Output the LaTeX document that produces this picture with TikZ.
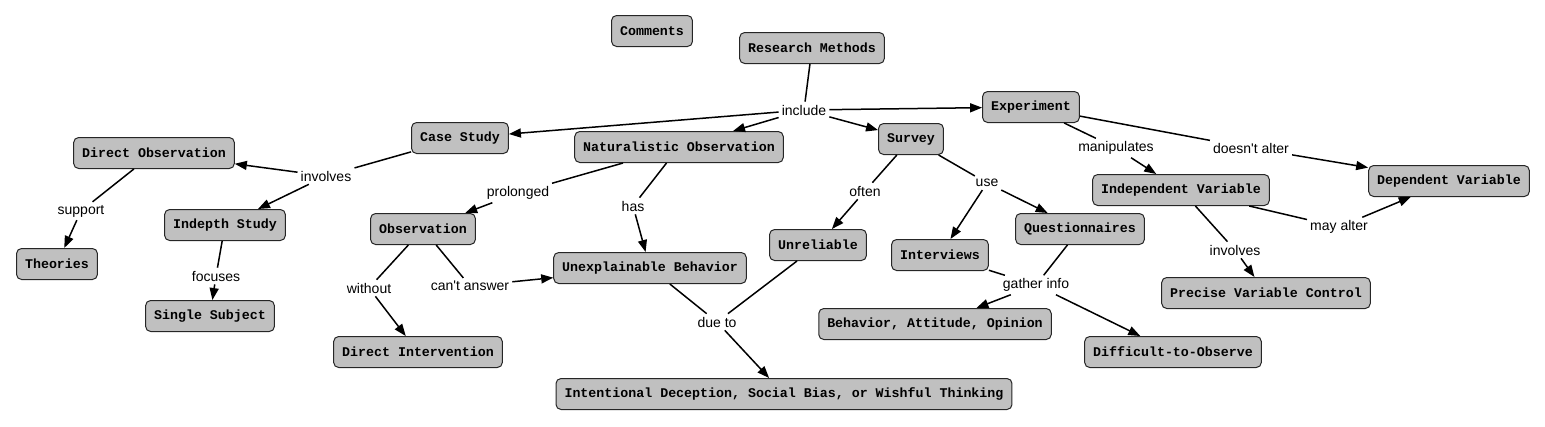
\documentclass[tikz,border=0pt]{standalone}
\usepackage{fontspec}
\setmainfont{Liberation Sans}
\newfontfamily\boxfont{Liberation Mono}
\usetikzlibrary{arrows.meta}
\definecolor{boxgray}{RGB}{192,192,192}
\tikzset{
  cbox/.style={draw=black!85, fill=boxgray, rounded corners=5pt, line width=1pt,
    minimum height=31pt, inner xsep=8.5pt, inner ysep=3pt,
    font=\boxfont\bfseries\fontsize{13.3}{15}\selectfont},
  lbl/.style={inner sep=3pt, font=\fontsize{14}{16}\selectfont},
  conn/.style={line width=1.5pt, draw=black},
  arr/.style={conn, -{Triangle[length=12pt,width=9pt]}}
}
\begin{document}
\begin{tikzpicture}[x=1pt,y=-1pt]
\useasboundingbox (0,0) rectangle (1545,426);
% boxes
\node[cbox] (comments) at (652,31) {Comments};
\node[cbox] (rm) at (812,48) {Research Methods};
\node[cbox] (exp) at (1031,107) {Experiment};
\node[cbox] (cs) at (460,138) {Case Study};
\node[cbox] (nat) at (679,147) {Naturalistic Observation};
\node[cbox] (sur) at (911,139) {Survey};
\node[cbox] (dobs) at (154,153) {Direct Observation};
\node[cbox] (ind) at (225,225) {Indepth Study};
\node[cbox] (theo) at (57,264) {Theories};
\node[cbox] (single) at (210,316) {Single Subject};
\node[cbox] (obs) at (423,229) {Observation};
\node[cbox] (unexp) at (650,268) {Unexplainable Behavior};
\node[cbox] (dint) at (418,352) {Direct Intervention};
\node[cbox] (unrel) at (818,245) {Unreliable};
\node[cbox] (intv) at (940,255) {Interviews};
\node[cbox] (quest) at (1080,229) {Questionnaires};
\node[cbox] (bao) at (935,324) {Behavior, Attitude, Opinion};
\node[cbox] (diff) at (1173,352) {Difficult-to-Observe};
\node[cbox] (intent) at (784,394) {Intentional Deception, Social Bias, or Wishful Thinking};
\node[cbox] (iv) at (1181,190) {Independent Variable};
\node[cbox] (dv) at (1449,181) {Dependent Variable};
\node[cbox] (pvc) at (1266,293) {Precise Variable Control};
% labels
\node[lbl] (include) at (804,110) {include};
\node[lbl] (involvesA) at (326,176) {involves};
\node[lbl] (support) at (81,211) {support};
\node[lbl] (focuses) at (216,276) {focuses};
\node[lbl] (prolonged) at (518,193) {prolonged};
\node[lbl] (has) at (633,206) {has};
\node[lbl] (without) at (369,288) {without};
\node[lbl] (cant) at (470,286) {can\textquotesingle t answer};
\node[lbl] (dueto) at (717,322) {due to};
\node[lbl] (often) at (865,191) {often};
\node[lbl] (use) at (987,183) {use};
\node[lbl] (gather) at (1036,285) {gather info};
\node[lbl] (manip) at (1116,148) {manipulates};
\node[lbl] (dalter) at (1251,148) {doesn\textquotesingle t alter};
\node[lbl] (malter) at (1339,227) {may alter};
\node[lbl] (involvesB) at (1235,250) {involves};
% connectors
\draw[conn] (rm) -- (include);
\draw[arr] (include) -- (cs);
\draw[arr] (include) -- (nat);
\draw[arr] (include) -- (sur);
\draw[arr] (include) -- (exp);
\draw[conn] (cs) -- (involvesA);
\draw[arr] (involvesA) -- (dobs);
\draw[arr] (involvesA) -- (ind);
\draw[conn] (dobs) -- (support);
\draw[arr] (support) -- (theo);
\draw[conn] (ind) -- (focuses);
\draw[arr] (focuses) -- (single);
\draw[conn] (nat) -- (prolonged);
\draw[arr] (prolonged) -- (obs);
\draw[conn] (nat) -- (has);
\draw[arr] (has) -- (unexp);
\draw[conn] (obs) -- (without);
\draw[arr] (without) -- (dint);
\draw[conn] (obs) -- (cant);
\draw[arr] (cant) -- (unexp);
\draw[conn] (unexp) -- (dueto);
\draw[conn] (unrel) -- (dueto);
\draw[arr] (dueto) -- (intent);
\draw[conn] (sur) -- (often);
\draw[arr] (often) -- (unrel);
\draw[conn] (sur) -- (use);
\draw[arr] (use) -- (intv);
\draw[arr] (use) -- (quest);
\draw[conn] (intv) -- (gather);
\draw[conn] (quest) -- (gather);
\draw[arr] (gather) -- (bao);
\draw[arr] (gather) -- (diff);
\draw[conn] (exp) -- (manip);
\draw[arr] (manip) -- (iv);
\draw[conn] (exp) -- (dalter);
\draw[arr] (dalter) -- (dv);
\draw[conn] (iv) -- (malter);
\draw[arr] (malter) -- (dv);
\draw[conn] (iv) -- (involvesB);
\draw[arr] (involvesB) -- (pvc);
\end{tikzpicture}
\end{document}
